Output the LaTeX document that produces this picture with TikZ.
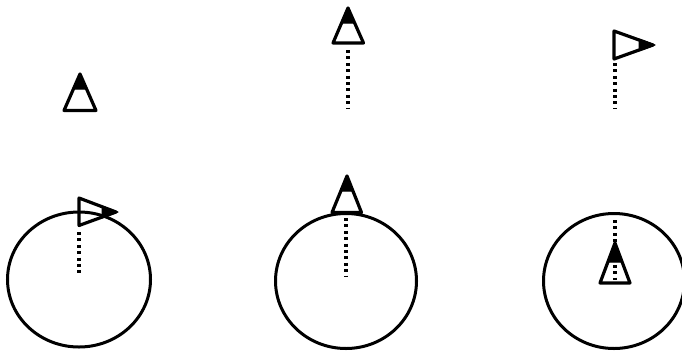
\documentclass[tikz,border=0pt]{standalone}
\usepackage{xcolor}
\usepackage{tikz}
\tikzset{
    ring/.style={draw=black, line width=3pt},
    cone/.style={draw=black, line width=3.2pt, line join=round},
    conetip/.style={fill=black, draw=black, line width=1pt, line join=round},
    sightline/.style={draw=black, line width=3.2pt, dash pattern=on 3pt off 3.4pt}
}

\begin{document}
\begin{tikzpicture}[x=1pt, y=-1pt]
    \useasboundingbox (0,0) rectangle (682,351);
    % left column
    \draw[cone] (80,74) -- (96,110.5) -- (64,110.5) -- cycle;
    \draw[conetip] (80,74) -- (86,89) -- (74,89) -- cycle;
    \draw[ring] (79,279.5) ellipse (71.5 and 67.5);
    \draw[sightline] (79,232) -- (79,276);
    \draw[cone] (79,198) -- (116,212) -- (79,225.5) -- cycle;
    \draw[conetip] (118,212) -- (102,206) -- (102,218) -- cycle;
    % middle column
    \draw[cone] (348,8) -- (363.5,43) -- (333,43) -- cycle;
    \draw[conetip] (348,8) -- (354,23) -- (342,23) -- cycle;
    \draw[sightline] (348,50) -- (348,108);
    \draw[ring] (346,281) ellipse (70.5 and 67.5);
    \draw[cone] (347,176) -- (361.5,212.5) -- (332,212.5) -- cycle;
    \draw[conetip] (347,176) -- (353,191) -- (341,191) -- cycle;
    \draw[sightline] (346,218) -- (346,277);
    % right column
    \draw[cone] (614,31) -- (653,45) -- (614,59) -- cycle;
    \draw[conetip] (655,45) -- (639,39) -- (639,51) -- cycle;
    \draw[sightline] (615,63) -- (615,108);
    \draw[ring] (614,281) ellipse (70.5 and 67.5);
    \draw[sightline] (615,220) -- (615,280);
    \draw[cone] (615,243) -- (630,283) -- (600,283) -- cycle;
    \draw[conetip] (615,243) -- (621,262) -- (609,262) -- cycle;
\end{tikzpicture}
\end{document}
